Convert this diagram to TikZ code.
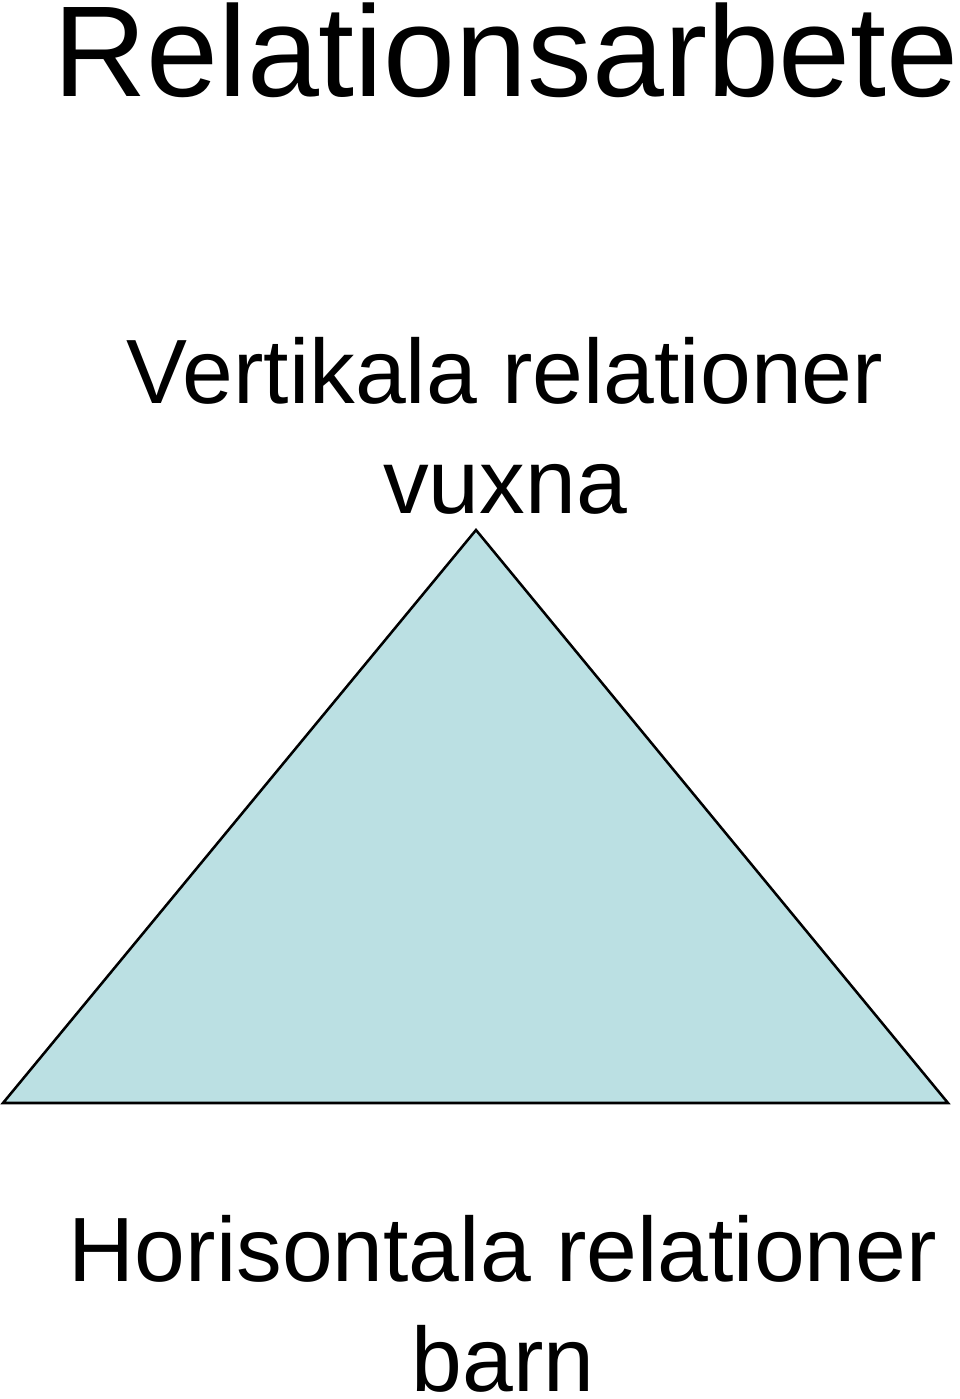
\documentclass[tikz,border=0pt]{standalone}
\usepackage{fontspec}
\setmainfont{Liberation Sans}
\definecolor{trifill}{HTML}{BBE0E3}
\tikzset{
  label text/.style={inner sep=0pt, anchor=base, align=center,
    font=\fontsize{68.5}{82}\selectfont},
  title text/.style={inner sep=0pt, anchor=base,
    font=\fontsize{97}{110}\selectfont}
}
\begin{document}
\begin{tikzpicture}[x=0.75pt,y=-0.75pt]
      \useasboundingbox (0,0) rectangle (960,1399);
      \coordinate (apex) at (476,530);
      \coordinate (left) at (3,1103);
      \coordinate (right) at (948,1103);
      \filldraw[fill=trifill, draw=black, line width=1.9pt, line join=miter]
        (apex) -- (left) -- (right) -- cycle;
      \draw
        (506,96) node[title text] (title){Relationsarbete}
        (505,513) node[label text] (vert){Vertikala relationer\\vuxna}
        (503,1391) node[label text] (hori){Horisontala relationer\\barn};
    \end{tikzpicture}
\end{document}
